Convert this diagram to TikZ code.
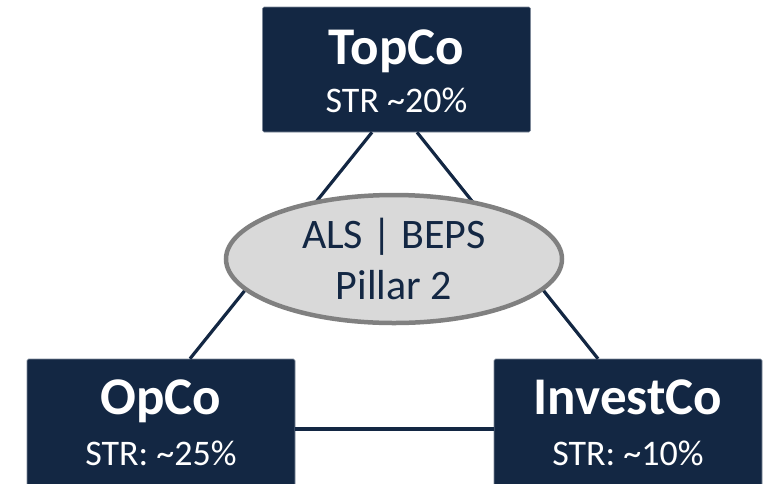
\documentclass[tikz,border=0pt]{standalone}
\usepackage{fontspec}
\setmainfont{Carlito}
\usetikzlibrary{shapes.geometric,positioning}
\definecolor{navy}{RGB}{19,39,67}
\definecolor{pillgray}{RGB}{217,217,217}
\definecolor{rimgray}{RGB}{128,128,128}

\begin{document}
\begin{tikzpicture}[
    x=1pt, y=-1pt,
    entity/.style={
        fill=navy,
        draw=navy!55!white,
        line width=0.6pt,
        rounded corners=1.5pt,
        minimum width=268pt,
        inner sep=0pt
    },
    title/.style={anchor=base, text=white, inner sep=0pt,
        font=\fontsize{53}{53}\selectfont\bfseries},
    rate/.style={anchor=base, text=white, inner sep=0pt,
        font=\fontsize{36}{36}\selectfont},
    rulebox/.style={
        ellipse,
        fill=pillgray,
        draw=rimgray,
        line width=4.5pt,
        minimum width=336pt,
        minimum height=128pt,
        inner sep=0pt,
        align=center,
        text=navy,
        font=\fontsize{42}{51}\selectfont
    },
    link/.style={draw=navy, line width=3.2pt}
]
\useasboundingbox (0,0) rectangle (767,483);
\clip (0,0) rectangle (767,483);

\node[entity, minimum height=125pt] (top) at (396.5,69.5) {};
\node[entity, minimum height=140pt] (opco) at (161,429) {};
\node[entity, minimum height=140pt] (invest) at (628,429) {};

\node[title] (topname) at ([yshift=-58pt]top.north) {TopCo};
\node[rate] (toprate) at ([yshift=-106pt]top.north) {STR \textasciitilde20\%};
\node[title] (opconame) at ([yshift=-56pt]opco.north) {OpCo};
\node[rate] (opcorate) at ([yshift=-107pt]opco.north) {STR: \textasciitilde25\%};
\node[title] (investname) at ([yshift=-56pt]invest.north) {InvestCo};
\node[rate] (investrate) at ([yshift=-107pt]invest.north) {STR: \textasciitilde10\%};

\draw[link] ([xshift=-24.5pt]top.south) -- ([xshift=29pt]opco.north);
\draw[link] ([xshift=20.5pt]top.south) -- ([xshift=-30pt]invest.north);
\draw[link] (opco.east) -- (invest.west);

\node[rulebox] (rules) at (394,259) {ALS | BEPS\\Pillar 2};

\end{tikzpicture}
\end{document}
